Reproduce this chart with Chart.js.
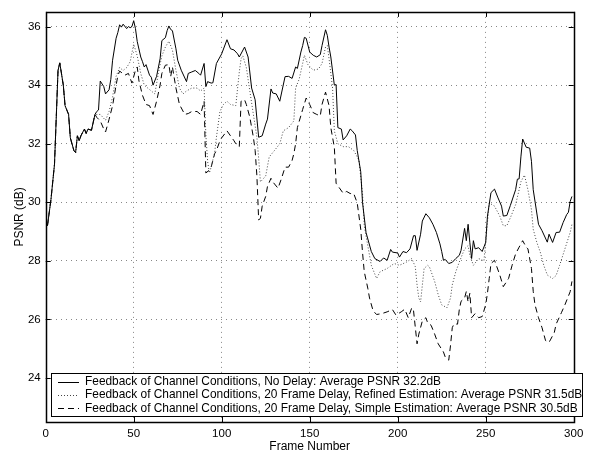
<!DOCTYPE html>
<html>
<head>
<meta charset="utf-8">
<title>PSNR per frame</title>
<script src="https://cdn.jsdelivr.net/npm/chart.js@4.4.0/dist/chart.umd.min.js"></script>
<style>
  html, body { margin: 0; padding: 0; background: #fff; }
  #wrap { width: 592px; height: 458px; }
</style>
</head>
<body>
<div id="wrap"><canvas id="psnr" width="592" height="458"></canvas></div>
<script>
// Axis ticks
const frameTicks = [0, 50, 100, 150, 200, 250, 300];
const psnrTicks = [24, 26, 28, 30, 32, 34, 36];

// Series labels
const seriesLabels = [
  'Feedback of Channel Conditions, No Delay: Average PSNR 32.2dB',
  'Feedback of Channel Conditions, 20 Frame Delay, Refined Estimation: Average PSNR 31.5dB',
  'Feedback of Channel Conditions, 20 Frame Delay, Simple Estimation: Average PSNR 30.5dB'
];

// No delay
const noDelayFrames = [1,3,5,7,8,10,11,13,14,16,17,18,19,20,22,23,24,26,28,29,30,31,33,34,36,37,38,40,41,42,43,44,46,47,48,49,50,51,52,54,55,56,57,59,60,61,63,65,66,68,69,70,71,72,74,75,77,80,81,83,85,87,88,90,91,92,94,95,97,100,103,105,107,109,110,113,115,117,119,121,123,125,126,128,129,131,133,136,138,140,142,143,145,146,147,148,150,152,154,156,157,159,160,161,162,164,165,166,168,169,171,173,174,176,177,179,180,182,185,187,190,192,194,196,197,200,201,203,205,207,209,210,211,213,214,216,218,220,222,224,225,226,227,229,231,233,235,236,238,239,240,241,242,243,244,246,248,250,251,253,255,257,259,260,262,264,267,268,269,270,271,273,275,276,277,280,282,285,286,288,290,292,294,296,297,298,299];
const noDelayPsnr = [29.2,30.1,31.3,34.5,34.76,34.0,33.3,33.0,32.2,31.77,31.7,32.27,32.1,32.27,32.5,32.35,32.5,32.46,33.0,33.1,33.15,34.14,33.95,33.7,33.84,34.2,34.85,35.6,35.8,36.06,35.98,36.08,35.93,36.0,35.96,36.0,36.2,35.93,35.49,34.96,34.8,34.62,34.7,34.34,34.27,34.0,34.3,34.9,35.52,35.62,35.86,36.02,35.9,35.86,35.24,34.85,34.51,34.12,34.4,34.45,34.5,34.4,34.34,34.74,33.95,34.12,34.07,34.08,34.74,35.07,35.55,35.24,35.2,35.07,34.96,35.3,34.96,33.9,33.5,32.22,32.27,32.67,32.84,33.87,33.73,33.7,33.45,34.29,34.3,34.23,34.62,34.57,35.13,35.35,35.63,35.6,35.13,35.02,34.96,35.04,35.35,35.89,35.7,35.3,34.96,34.0,34.02,32.55,32.5,32.13,32.27,32.5,32.45,32.3,31.77,31.04,30.0,28.97,28.32,28.08,27.98,28.1,28.02,28.39,28.3,28.27,28.13,28.32,28.28,28.41,28.86,28.86,28.36,28.91,29.36,29.61,29.47,29.25,28.97,28.58,28.32,28.02,28.05,27.91,27.95,28.08,28.19,28.36,29.11,28.69,29.25,28.62,28.08,28.69,28.41,28.45,28.32,28.63,29.53,30.33,30.45,30.15,29.87,29.53,29.55,29.89,30.43,30.79,30.8,31.55,32.16,31.88,31.85,31.4,30.43,29.25,29.03,28.64,28.91,28.63,28.97,28.98,29.31,29.58,29.66,30.03,30.2];

// 20 frame delay, refined estimation
const refinedFrames = [1,3,5,7,8,10,11,13,14,16,17,18,19,20,22,23,24,26,28,29,31,34,36,38,40,42,44,46,48,50,52,54,56,58,60,62,64,66,68,70,72,74,76,78,80,83,86,88,90,91,92,93,94,96,97,99,101,103,105,108,110,111,112,114,116,118,120,121,122,123,125,127,130,133,135,138,141,142,144,146,147,149,152,155,157,159,160,161,163,164,166,169,172,175,177,178,180,181,183,185,188,190,194,198,201,205,208,210,211,212,213,215,217,218,221,223,225,228,230,231,233,235,238,240,241,243,246,249,250,252,255,258,260,262,264,267,269,270,272,274,276,277,279,281,283,285,288,290,292,295,298,299];
const refinedPsnr = [29.2,30.1,31.3,34.5,34.76,34.0,33.3,33.0,32.2,31.77,31.7,32.27,32.1,32.27,32.5,32.35,32.5,32.46,33.0,33.0,33.0,32.8,33.1,33.6,34.3,34.6,34.5,34.6,34.8,35.4,35.0,34.4,34.0,33.9,33.8,33.7,34.4,35.0,35.3,35.5,35.2,34.5,33.9,33.7,33.8,33.9,33.9,33.8,33.9,32.3,31.4,31.0,31.2,31.7,32.22,33.1,33.34,33.45,33.34,33.3,34.45,34.9,35.0,34.6,33.79,33.0,32.22,31.5,30.7,30.76,30.9,31.55,31.77,32.0,32.44,32.55,32.78,33.9,34.2,34.74,35.02,34.7,34.51,34.55,34.74,35.3,35.35,34.9,33.9,32.44,32.0,31.9,31.9,31.77,31.55,31.43,30.31,29.2,28.52,27.85,27.4,27.63,27.74,27.91,27.85,27.96,28.08,27.8,27.18,26.73,26.6,27.74,27.85,27.8,27.3,26.85,26.5,26.4,26.73,27.18,27.63,27.96,28.41,28.52,28.19,27.85,28.08,28.0,28.64,29.98,29.87,29.53,29.2,29.2,29.47,29.92,30.43,30.7,30.93,30.43,29.75,29.08,28.64,28.3,27.85,27.52,27.4,27.5,27.85,28.41,28.97,29.25];

// 20 frame delay, simple estimation
const simpleFrames = [1,3,5,7,8,10,11,13,14,16,17,18,19,20,22,23,24,26,28,29,31,33,34,36,38,40,41,42,45,47,49,51,52,53,55,57,59,61,63,65,66,68,70,71,72,74,76,79,81,83,86,88,90,91,93,94,96,97,99,100,103,105,107,108,110,111,113,114,116,118,119,120,121,122,123,125,126,128,129,132,134,136,138,140,141,142,143,146,148,150,152,154,156,157,159,161,162,164,165,169,171,173,175,177,179,180,181,183,184,186,188,191,194,197,199,202,204,206,208,209,211,212,214,216,217,219,221,223,226,227,229,230,231,232,234,235,236,238,239,240,241,242,244,246,248,250,251,252,253,255,258,260,263,265,267,269,271,273,274,276,277,278,280,282,284,286,287,289,290,293,295,298,299];
const simplePsnr = [29.2,30.1,31.3,34.5,34.76,34.0,33.3,33.0,32.2,31.77,31.7,32.27,32.1,32.27,32.5,32.35,32.5,32.46,33.0,32.9,32.78,32.5,32.4,32.83,33.3,34.0,34.32,34.48,34.34,34.4,34.07,34.51,34.62,34.14,33.65,33.34,33.3,33.0,33.45,34.0,34.4,34.68,34.7,34.29,34.62,33.9,33.34,33.0,33.03,33.1,33.1,33.0,33.45,31.0,31.1,31.2,31.66,31.77,32.1,32.2,32.44,32.27,32.1,32.0,31.9,33.45,33.5,33.34,32.9,32.22,31.77,30.9,29.4,29.45,29.87,30.2,30.54,30.82,30.7,30.48,30.82,31.2,31.2,31.43,31.66,32.0,32.55,33.17,33.56,33.34,33.06,33.0,32.95,33.34,33.76,33.3,32.55,31.88,30.65,30.31,30.37,30.3,30.3,29.98,29.08,28.3,27.63,27.07,26.73,26.3,26.17,26.2,26.26,26.34,26.15,26.26,26.35,26.06,26.4,26.3,25.17,25.5,25.95,26.06,25.89,25.8,25.5,25.17,24.89,24.72,24.61,25.11,25.72,25.85,25.84,26.34,26.62,26.73,26.96,26.6,26.9,26.06,26.2,26.06,26.1,26.5,26.9,27.4,27.91,28.02,27.52,27.12,27.4,27.85,28.24,28.47,28.69,28.47,28.41,27.74,26.96,26.5,26.06,25.72,25.28,25.22,25.33,25.56,25.84,26.23,26.5,26.95,27.3];

function pairs(xs, ys) {
  return xs.map((x, i) => ({ x: x, y: ys[i] }));
}

const FONT = '"Liberation Sans", Arial, Helvetica, sans-serif';

// MATLAB-style box with inward tick marks on all four sides
const boxTicks = {
  id: 'boxTicks',
  afterDatasetsDraw(chart) {
    const { ctx, chartArea: a, scales: { x, y } } = chart;
    const len = 5;
    ctx.save();
    ctx.strokeStyle = '#000';
    ctx.lineWidth = 1;
    ctx.beginPath();
    frameTicks.forEach(v => {
      const px = Math.round(x.getPixelForValue(v)) + 0.5;
      ctx.moveTo(px, a.bottom); ctx.lineTo(px, a.bottom - len);
      ctx.moveTo(px, a.top); ctx.lineTo(px, a.top + len);
    });
    psnrTicks.forEach(v => {
      const py = Math.round(y.getPixelForValue(v)) + 0.5;
      ctx.moveTo(a.left, py); ctx.lineTo(a.left + len, py);
      ctx.moveTo(a.right, py); ctx.lineTo(a.right - len, py);
    });
    ctx.stroke();
    ctx.lineWidth = 1.5;
    ctx.strokeRect(Math.round(a.left) + 0.5, Math.round(a.top) + 0.5,
                   Math.round(a.right - a.left), Math.round(a.bottom - a.top));
    ctx.restore();
  }
};

// Boxed legend in the lower part of the plot
const boxLegend = {
  id: 'boxLegend',
  afterDraw(chart) {
    const { ctx } = chart;
    const box = { left: 51.5, top: 373.5, right: 582.5, bottom: 416.5 };
    const rowH = 13.3;
    ctx.save();
    ctx.fillStyle = '#fff';
    ctx.fillRect(box.left, box.top, box.right - box.left, box.bottom - box.top);
    ctx.strokeStyle = '#000';
    ctx.lineWidth = 1;
    ctx.strokeRect(box.left, box.top, box.right - box.left, box.bottom - box.top);
    ctx.font = '11.9px ' + FONT;
    ctx.textBaseline = 'middle';
    chart.data.datasets.forEach((ds, i) => {
      const cy = box.top + 8.2 + i * rowH;
      ctx.beginPath();
      ctx.setLineDash(ds.borderDash || []);
      ctx.strokeStyle = ds.borderColor;
      ctx.lineWidth = ds.borderWidth;
      ctx.moveTo(58, Math.round(cy) + 0.5);
      ctx.lineTo(79, Math.round(cy) + 0.5);
      ctx.stroke();
      ctx.setLineDash([]);
      ctx.fillStyle = '#000';
      ctx.fillText(ds.label, 85, cy);
    });
    ctx.restore();
  }
};

new Chart(document.getElementById('psnr'), {
  type: 'line',
  data: {
    datasets: [
      { label: seriesLabels[0], data: pairs(noDelayFrames, noDelayPsnr),
        borderColor: '#000', borderWidth: 1, borderDash: [] },
      { label: seriesLabels[1], data: pairs(refinedFrames, refinedPsnr),
        borderColor: '#444', borderWidth: 1, borderDash: [1, 2] },
      { label: seriesLabels[2], data: pairs(simpleFrames, simplePsnr),
        borderColor: '#000', borderWidth: 1, borderDash: [6, 4] }
    ]
  },
  options: {
    responsive: false,
    animation: false,
    events: [],
    layout: { padding: { top: 5, right: 18.3, left: 0, bottom: 0 } },
    elements: { point: { radius: 0 }, line: { tension: 0, fill: false } },
    plugins: { legend: { display: false }, tooltip: { enabled: false } },
    scales: {
      x: {
        type: 'linear', min: 0, max: 300,
        afterBuildTicks(s) { s.ticks = frameTicks.map(v => ({ value: v })); },
        afterFit(s) { s.height = 36; },
        border: { display: false, dash: [1, 4] },
        grid: { color: '#888', drawTicks: false,
                lineWidth: c => (c.tick && (c.tick.value === 0 || c.tick.value === 300)) ? 0 : 1 },
        ticks: { color: '#000', font: { family: FONT, size: 11.5 }, padding: 5, maxRotation: 0 },
        title: { display: true, text: 'Frame Number', color: '#000',
                 font: { family: FONT, size: 12 }, padding: { top: 4, bottom: 4 } }
      },
      y: {
        type: 'linear', min: 22.5, max: 36.5,
        afterBuildTicks(s) { s.ticks = psnrTicks.map(v => ({ value: v })); },
        afterFit(s) { s.width = 45.7; },
        border: { display: false, dash: [1, 4] },
        grid: { color: '#888', drawTicks: false },
        ticks: { color: '#000', font: { family: FONT, size: 11.5 }, padding: 5 },
        title: { display: true, text: 'PSNR (dB)', color: '#000',
                 font: { family: FONT, size: 12 }, padding: { top: 12.5, bottom: 0 } }
      }
    }
  },
  plugins: [boxTicks, boxLegend]
});
</script>
</body>
</html>
